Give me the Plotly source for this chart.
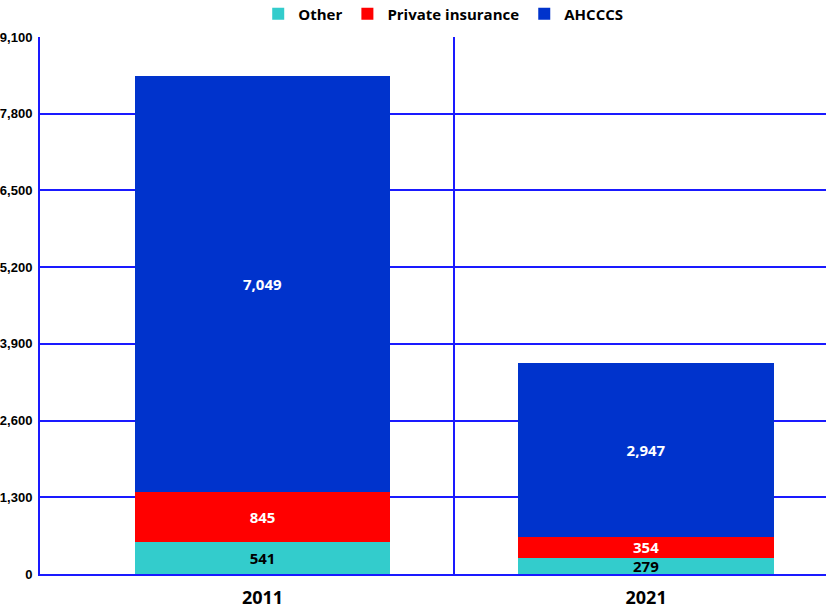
import plotly.graph_objects as go

years = ["2011", "2021"]
other = [541, 279]
private = [845, 354]
ahcccs = [7049, 2947]
y_ticks = [0, 1300, 2600, 3900, 5200, 6500, 7800, 9100]

xpos = list(range(len(years)))
FONT = "Open Sans"
TICKFONT = "Liberation Sans"
GRID = "#1a1aff"

fig = go.Figure()
series = [
    ("Other", other, "#33CCCC", "black"),
    ("Private insurance", private, "#FF0000", "white"),
    ("AHCCCS", ahcccs, "#0033CC", "white"),
]
for name, vals, col, tcol in series:
    fig.add_trace(go.Bar(
        x=xpos, y=vals, name=f"<b>{name}</b>", width=0.667,
        marker=dict(color=col, line=dict(width=0)),
        text=[f"<b>{v:,}</b>" for v in vals],
        textposition="inside", insidetextanchor="middle",
        textfont=dict(color=tcol, size=15, family=FONT),
        cliponaxis=False,
    ))

fig.update_layout(
    width=826, height=616,
    margin=dict(l=40, r=0, t=37, b=42, autoexpand=False),
    barmode="stack",
    plot_bgcolor="white", paper_bgcolor="white",
    font=dict(family=FONT, color="black"),
    uniformtext=dict(minsize=15, mode="show"),
    legend=dict(orientation="h", x=0.513, xanchor="center", y=1.012, yanchor="bottom",
                traceorder="normal", font=dict(size=15, family=FONT),
                itemwidth=30, tracegroupgap=0),
    showlegend=True,
)
fig.update_xaxes(
    range=[-0.58, 1.469], tickvals=xpos, ticktext=[f"<b>{y}</b>" for y in years],
    tickfont=dict(size=18, family=FONT), showgrid=False, ticks="", ticklabelstandoff=6,
    showline=True, linecolor=GRID, linewidth=2, zeroline=False,
    minor=dict(tickvals=[0.5], showgrid=True, gridcolor=GRID, gridwidth=2, ticks=""),
)
fig.update_yaxes(
    range=[0, 9100], tickvals=y_ticks, ticktext=[f"<b>{v:,}</b>" for v in y_ticks],
    tickfont=dict(size=13, family=TICKFONT), showgrid=True, gridcolor=GRID, gridwidth=2,
    showline=True, linecolor=GRID, linewidth=2, zeroline=False, ticks="",
    ticklabelstandoff=3,
)
fig.write_html("out.html", config={"displayModeBar": False},
               post_script="document.body.style.margin='0';document.body.style.overflow='hidden';")
